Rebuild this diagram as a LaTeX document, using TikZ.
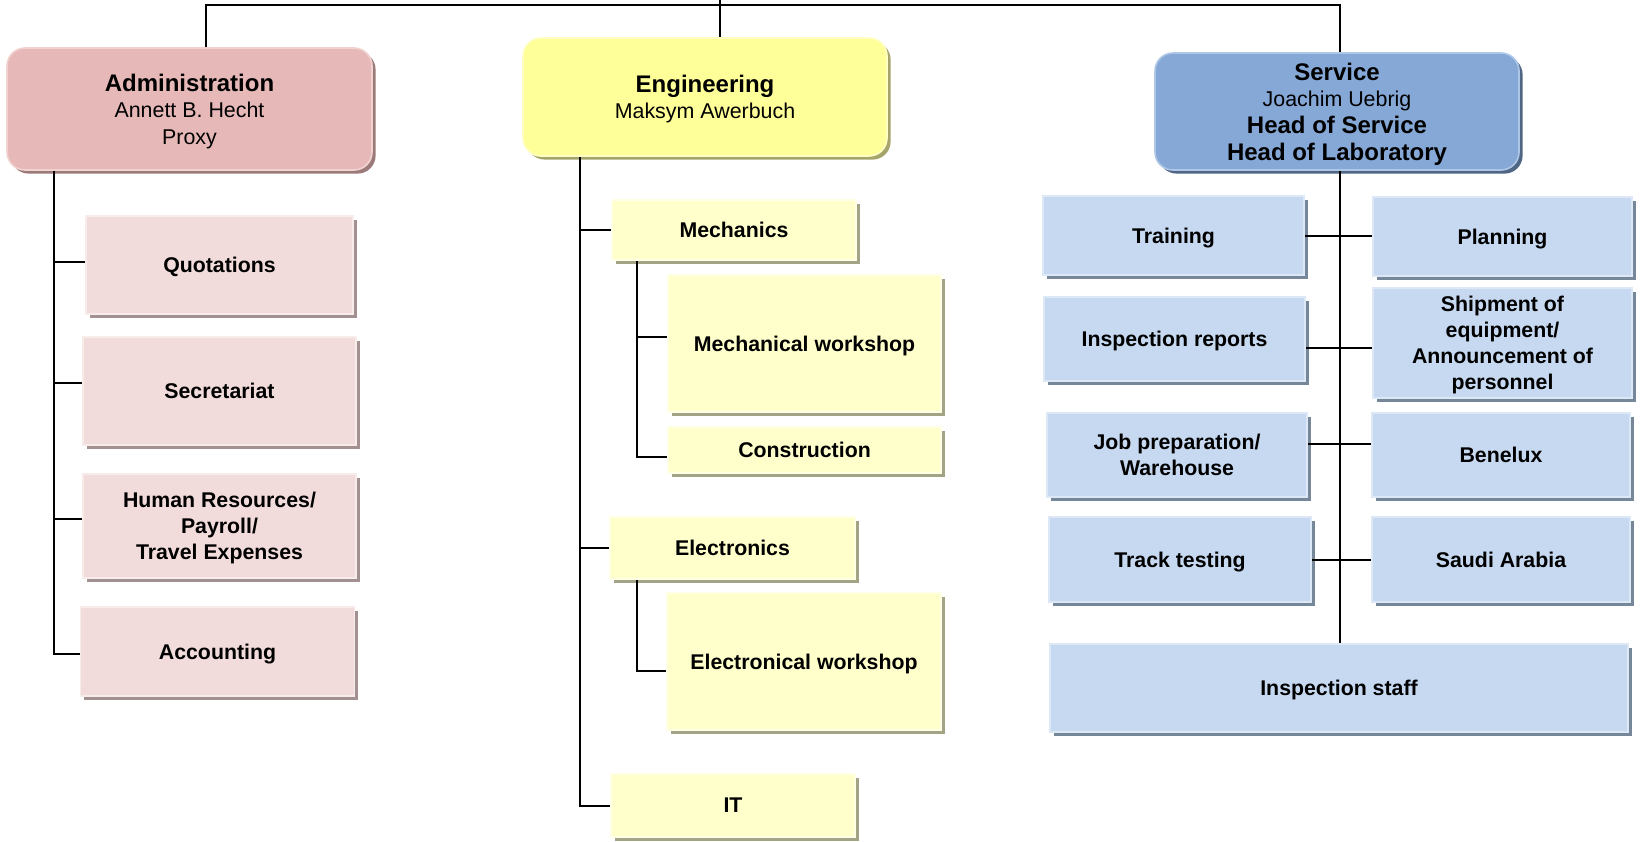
\documentclass[tikz,border=0pt]{standalone}
\usepackage{fontspec}
\setmainfont{Liberation Sans}
\usetikzlibrary{shadows}
\definecolor{admhead}{HTML}{E6B9B8}
\definecolor{admheadl}{HTML}{F0D2D1}
\definecolor{admheads}{HTML}{9C7A7A}
\definecolor{admsub}{HTML}{F2DCDB}
\definecolor{admsubl}{HTML}{F8ECEB}
\definecolor{admsubs}{HTML}{A39090}
\definecolor{enghead}{HTML}{FFFF99}
\definecolor{engheadl}{HTML}{FFFFC4}
\definecolor{engheads}{HTML}{A5A56B}
\definecolor{engsub}{HTML}{FFFFCC}
\definecolor{engsubl}{HTML}{FFFFE6}
\definecolor{engsubs}{HTML}{A3A385}
\definecolor{srvhead}{HTML}{85A8D6}
\definecolor{srvheadl}{HTML}{AFC7E7}
\definecolor{srvheads}{HTML}{4F6785}
\definecolor{srvsub}{HTML}{C6D9F0}
\definecolor{srvsubl}{HTML}{DDE8F6}
\definecolor{srvsubs}{HTML}{76879A}
\newcommand{\headtxt}[1]{{\fontsize{12pt}{13.3pt}\selectfont\bfseries #1}}

\begin{document}
\begin{tikzpicture}[
        x=0.5pt, y=-0.5pt,
        line width=1pt,
        font=\fontsize{10.7pt}{13.3pt}\selectfont
    ]
    \tikzset{
        orgbox/.style = {rectangle, align=center, inner sep=2pt, text depth=-2pt, line width=0.8pt},
        headadm/.style = {orgbox, rounded corners=9pt, fill=admhead, draw=admheadl,
            drop shadow={shadow xshift=1.8pt, shadow yshift=-1.8pt, fill=admheads, opacity=1}},
        headeng/.style = {orgbox, rounded corners=9pt, fill=enghead, draw=engheadl,
            drop shadow={shadow xshift=1.8pt, shadow yshift=-1.8pt, fill=engheads, opacity=1}},
        headsrv/.style = {orgbox, rounded corners=9pt, fill=srvhead, draw=srvheadl,
            drop shadow={shadow xshift=1.8pt, shadow yshift=-1.8pt, fill=srvheads, opacity=1}},
        subtxt/.style = {font=\fontsize{10.65pt}{13pt}\selectfont\bfseries},
        subadm/.style = {orgbox, subtxt, fill=admsub, draw=admsubl,
            drop shadow={shadow xshift=1.8pt, shadow yshift=-1.8pt, fill=admsubs, opacity=1}},
        subeng/.style = {orgbox, subtxt, fill=engsub, draw=engsubl,
            drop shadow={shadow xshift=1.8pt, shadow yshift=-1.8pt, fill=engsubs, opacity=1}},
        subsrv/.style = {orgbox, subtxt, fill=srvsub, draw=srvsubl,
            drop shadow={shadow xshift=1.8pt, shadow yshift=-1.8pt, fill=srvsubs, opacity=1}},
        edgen/.style = {-, black, line width=1pt},
    }
    \useasboundingbox (0,0) rectangle (1641,841);
    % heads
    \node[headadm, minimum width=182.5pt, minimum height=61pt] at (189.5,109) (adm)
        {\headtxt{Administration}\\Annett B. Hecht\\Proxy};
    \node[headeng, minimum width=182pt, minimum height=59pt] at (705,97) (eng)
        {\headtxt{Engineering}\\Maksym Awerbuch};
    \node[headsrv, minimum width=182pt, minimum height=58.5pt] at (1337,111.5) (srv)
        {\headtxt{Service}\\Joachim Uebrig\\\headtxt{Head of Service}\\\headtxt{Head of Laboratory}};
    %
    \node[subadm, minimum width=133.5pt, minimum height=49pt] at (219.5,265) (quot) {Quotations};
    \node[subadm, minimum width=136.5pt, minimum height=54pt] at (219.5,391) (secr) {Secretariat};
    \node[subadm, minimum width=136.5pt, minimum height=52pt] at (219.5,526) (hr)
        {Human Resources/\\Payroll/\\Travel Expenses};
    \node[subadm, minimum width=137pt, minimum height=44.5pt] at (217.5,651.5) (acc) {Accounting};
    %
    \node[subeng, minimum width=122pt, minimum height=30pt] at (734,230) (mech) {Mechanics};
    \node[subeng, minimum width=136.5pt, minimum height=68.5pt] at (804.5,343.5) (mechws) {Mechanical workshop};
    \node[subeng, minimum width=136.5pt, minimum height=23pt] at (804.5,450) (constr) {Construction};
    \node[subeng, minimum width=122.5pt, minimum height=31pt] at (732.5,548) (elec) {Electronics};
    \node[subeng, minimum width=137pt, minimum height=68.5pt] at (804,661.5) (elecws) {Electronical workshop};
    \node[subeng, minimum width=122pt, minimum height=31.5pt] at (733,805.5) (it) {IT};
    %
    \node[subsrv, minimum width=130.5pt, minimum height=39.5pt] at (1173.5,235.5) (train) {Training};
    \node[subsrv, minimum width=130.5pt, minimum height=42pt] at (1174.5,339) (insrep) {Inspection reports};
    \node[subsrv, minimum width=130pt, minimum height=42pt] at (1177,455) (jobprep)
        {Job preparation/\\Warehouse};
    \node[subsrv, minimum width=131pt, minimum height=42.5pt] at (1180,559.5) (track) {Track testing};
    \node[subsrv, minimum width=129.5pt, minimum height=39.5pt] at (1502.5,236.5) (plan) {Planning};
    \node[subsrv, minimum width=129.5pt, minimum height=55pt] at (1502.5,343) (ship)
        {Shipment of\\equipment/\\Announcement of\\personnel};
    \node[subsrv, minimum width=129pt, minimum height=42pt] at (1501,455) (benelux) {Benelux};
    \node[subsrv, minimum width=129pt, minimum height=42.5pt] at (1501,559.5) (saudi) {Saudi Arabia};
    \node[subsrv, minimum width=289pt, minimum height=44pt] at (1339,688) (staff) {Inspection staff};
    %
    \coordinate (topbar) at (720,5);
    \coordinate (eroot) at (720,0);
    \coordinate (aspine) at (54,0);
    \coordinate (espine) at (580,0);
    \coordinate (mspine) at (637,0);
    \coordinate (sspine) at (1340,0);
    %
    \draw[edgen] ([xshift=8.25pt]adm.north) |- (topbar) -| ([xshift=1.5pt]srv.north);
    \draw[edgen] (eroot) -- (eroot |- eng.north);
    %
    \draw[edgen] (adm.south -| aspine) |- ([yshift=-1pt]acc.west);
    \foreach \n/\s in {quot/1.5pt, secr/4pt, hr/3.75pt}
        \draw[edgen] ([yshift=\s]\n.west) -- ([yshift=\s]\n.west -| aspine);
    %
    \draw[edgen] (eng.south -| espine) |- (it.west);
    \draw[edgen] (mech.west) -- (mech.west -| espine);
    \draw[edgen] (elec.west) -- (elec.west -| espine);
    \draw[edgen] (mech.south -| mspine) |- ([yshift=-3.5pt]constr.west);
    \draw[edgen] ([yshift=3.25pt]mechws.west) -- ([yshift=3.25pt]mechws.west -| mspine);
    \draw[edgen] (elec.south -| mspine) |- ([yshift=-4.75pt]elecws.west);
    %
    \draw[edgen] (srv.south -| sspine) -- (staff.north -| sspine);
    \draw[edgen] (train.east) -- (train.east -| plan.west);
    \draw[edgen] ([yshift=-4.5pt]insrep.east) -- ([yshift=-4.5pt]insrep.east -| ship.west);
    \draw[edgen] ([yshift=5.5pt]jobprep.east) -- ([yshift=5.5pt]jobprep.east -| benelux.west);
    \draw[edgen] (track.east) -- (track.east -| saudi.west);
\end{tikzpicture}
\end{document}
